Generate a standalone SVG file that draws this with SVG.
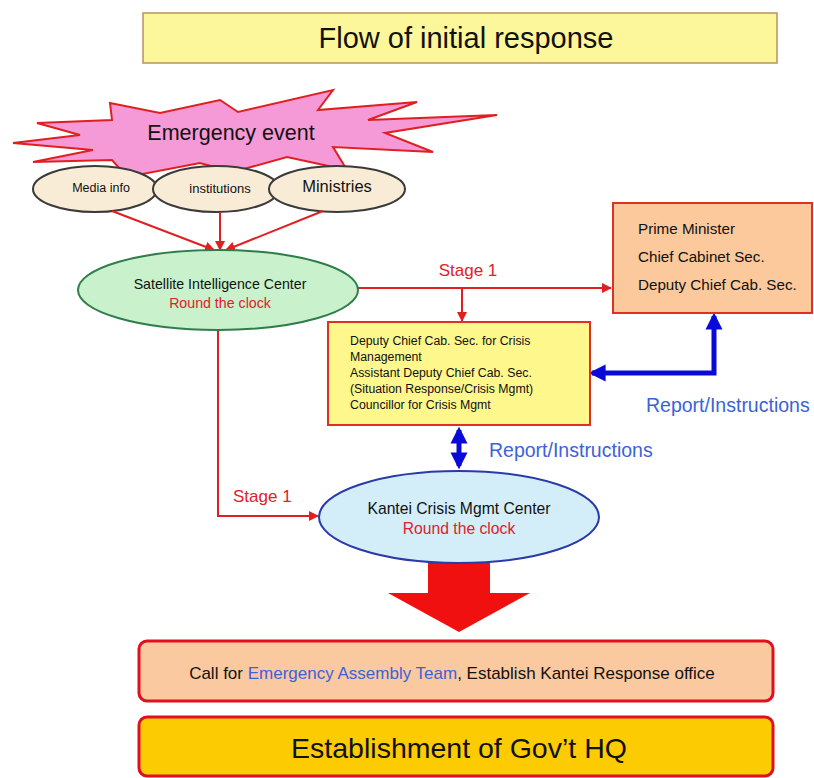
<svg xmlns="http://www.w3.org/2000/svg" width="814" height="778" viewBox="0 0 814 778">
<style>
text{font-family:"Liberation Sans",Arial,sans-serif;fill:#111}
.red{fill:#e0202a}
.blue{fill:#3a63d8}
.rl{stroke:#e02020;stroke-width:2;fill:none}
.bl{stroke:#0a0ad8;stroke-width:5;fill:none}
.src{fill:#f8ecd6;stroke:#3a3a3a;stroke-width:2}
</style>
<defs>
<marker id="ra" viewBox="0 0 10 10" refX="9" refY="5" markerWidth="5" markerHeight="5" orient="auto-start-reverse" markerUnits="strokeWidth"><path d="M0,0 L10,5 L0,10 z" fill="#e02020"/></marker>
<marker id="ba" viewBox="0 0 10 10" refX="8" refY="5" markerWidth="3.4" markerHeight="3.8" orient="auto-start-reverse" markerUnits="strokeWidth"><path d="M0,0 L10,5 L0,10 z" fill="#0a0ad8"/></marker>
</defs>
<rect width="814" height="778" fill="#fff"/>
<g id="title">
<rect x="143" y="13" width="634" height="50" fill="#fbf79a" stroke="#b89060" stroke-width="1.5"/>
<text x="466" y="48" font-size="29" text-anchor="middle">Flow of initial response</text>
</g>
<g id="emergency">
<polygon points="13,143 80,135 37,123 112,120 110,103 160,113 220,100 238,112 333,90 318,110 417,102 368,120 497,115 385,133 433,152 333,147 347,170 287,157 233,172 200,163 127,177 112,160 33,162 93,150" fill="#f59ad6" stroke="#e02020" stroke-width="2"/>
<text x="231" y="140" font-size="21.5" text-anchor="middle">Emergency event</text>
</g>
<g id="media">
<ellipse cx="95" cy="189" rx="62" ry="23" class="src"/>
<text x="101" y="192" font-size="12.5" text-anchor="middle">Media info</text>
</g>
<g id="institutions">
<ellipse cx="216" cy="189" rx="63" ry="23" class="src"/>
<text x="220" y="193" font-size="13" text-anchor="middle">institutions</text>
</g>
<g id="ministries">
<ellipse cx="337" cy="189" rx="68" ry="23" class="src"/>
<text x="337" y="192" font-size="16.5" text-anchor="middle">Ministries</text>
</g>
<g id="connectors">
<line x1="112" y1="211" x2="214" y2="250" class="rl" marker-end="url(#ra)"/>
<line x1="220" y1="212" x2="220" y2="250" class="rl" marker-end="url(#ra)"/>
<line x1="323" y1="211" x2="226" y2="250" class="rl" marker-end="url(#ra)"/>
<line x1="357" y1="288" x2="611" y2="288" class="rl" marker-end="url(#ra)"/>
<line x1="462" y1="288" x2="462" y2="321" class="rl" marker-end="url(#ra)"/>
<polyline points="218,330 218,516 318,516" class="rl" marker-end="url(#ra)"/>
<polyline points="592,373 714,373 714,316" class="bl" marker-start="url(#ba)" marker-end="url(#ba)"/>
<line x1="459" y1="430" x2="459" y2="466" class="bl" marker-start="url(#ba)" marker-end="url(#ba)"/>
<polygon points="428,562 490,562 490,593 530,593 459,632 388,593 428,593" fill="#f01010"/>
<text x="468" y="276" font-size="17" text-anchor="middle" class="red">Stage 1</text>
<text x="233" y="502" font-size="17" class="red">Stage 1</text>
<text x="646" y="412" font-size="19.5" class="blue">Report/Instructions</text>
<text x="489" y="457" font-size="19.5" class="blue">Report/Instructions</text>
</g>
<g id="satellite">
<ellipse cx="218" cy="290" rx="140" ry="40" fill="#c9f1cb" stroke="#2e7d4a" stroke-width="2"/>
<text x="220" y="289" font-size="14.2" text-anchor="middle">Satellite Intelligence Center</text>
<text x="220" y="308" font-size="14.2" text-anchor="middle" class="red">Round the clock</text>
</g>
<g id="pm">
<rect x="613" y="203" width="199" height="110" fill="#fbc99b" stroke="#e03020" stroke-width="2"/>
<text x="638" y="234" font-size="15.2">Prime Minister</text>
<text x="638" y="262" font-size="15.2">Chief Cabinet Sec.</text>
<text x="638" y="290" font-size="15.2">Deputy Chief Cab. Sec.</text>
</g>
<g id="deputy">
<rect x="328" y="322" width="262" height="103" fill="#fdf78c" stroke="#e03020" stroke-width="2"/>
<text x="350" y="345" font-size="12.3">Deputy Chief Cab. Sec. for Crisis</text>
<text x="350" y="361" font-size="12.3">Management</text>
<text x="350" y="377" font-size="12.3">Assistant Deputy Chief Cab. Sec.</text>
<text x="350" y="393" font-size="12.3">(Situation Response/Crisis Mgmt)</text>
<text x="350" y="409" font-size="12.3">Councillor for Crisis Mgmt</text>
</g>
<g id="kantei">
<ellipse cx="459" cy="517" rx="140" ry="46" fill="#d3eef9" stroke="#2a3aa8" stroke-width="2"/>
<text x="459" y="514" font-size="15.7" text-anchor="middle">Kantei Crisis Mgmt Center</text>
<text x="459" y="534" font-size="15.7" text-anchor="middle" class="red">Round the clock</text>
</g>
<g id="call">
<rect x="139" y="641" width="634" height="60" rx="8" fill="#fbc9a0" stroke="#e01020" stroke-width="3"/>
<text x="452" y="679" font-size="17" text-anchor="middle">Call for <tspan class="blue">Emergency Assembly Team</tspan>, Establish Kantei Response office</text>
</g>
<g id="hq">
<rect x="139" y="717" width="634" height="59" rx="8" fill="#fdcb02" stroke="#e01020" stroke-width="3"/>
<text x="459" y="758" font-size="28.5" text-anchor="middle">Establishment of Gov’t HQ</text>
</g>
</svg>
